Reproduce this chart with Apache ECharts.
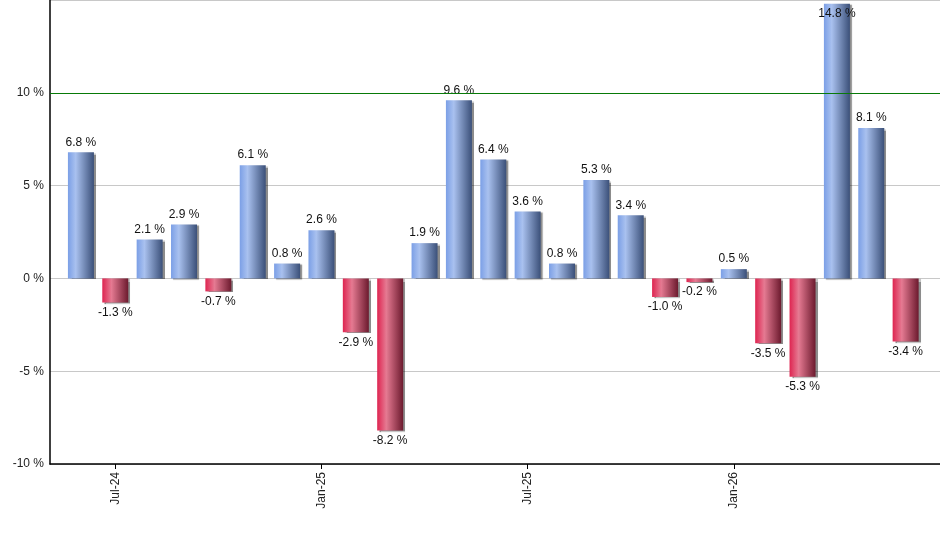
<!DOCTYPE html>
<html>
<head>
<meta charset="utf-8">
<script src="https://cdn.jsdelivr.net/npm/echarts@6/dist/echarts.min.js"></script>
<style>
    html, body { margin: 0; padding: 0; background: #fff; }
    #chart { width: 940px; height: 550px; }
</style>
</head>
<body>
<div id="chart"></div>
<script>
// 月度收益率柱状图

const months = ['Jun-24', 'Jul-24', 'Aug-24', 'Sep-24', 'Oct-24', 'Nov-24', 'Dec-24',
    'Jan-25', 'Feb-25', 'Mar-25', 'Apr-25', 'May-25', 'Jun-25', 'Jul-25', 'Aug-25',
    'Sep-25', 'Oct-25', 'Nov-25', 'Dec-25', 'Jan-26', 'Feb-26', 'Mar-26', 'Apr-26',
    'May-26', 'Jun-26'];
const returns = [6.8, -1.3, 2.1, 2.9, -0.7, 6.1, 0.8, 2.6, -2.9, -8.2, 1.9, 9.6, 6.4,
    3.6, 0.8, 5.3, 3.4, -1.0, -0.2, 0.5, -3.5, -5.3, 14.8, 8.1, -3.4];
const tickMonths = [1, 7, 13, 19];
const yTicks = [-10, -5, 0, 5, 10, 15];

const blueGrad = new echarts.graphic.LinearGradient(0, 0, 1, 0, [
    { offset: 0, color: '#7b9fe6' },
    { offset: 0.3, color: '#a9c1ef' },
    { offset: 1, color: '#3b5079' }
]);
const redGrad = new echarts.graphic.LinearGradient(0, 0, 1, 0, [
    { offset: 0, color: '#de2450' },
    { offset: 0.35, color: '#e57a92' },
    { offset: 1, color: '#6c1a2e' }
]);

const yMax = yTicks[yTicks.length - 1];

const barData = returns.map((v, i) => {
    const item = {
        value: [i, v],
        itemStyle: { color: v >= 0 ? blueGrad : redGrad },
        label: { position: v >= 0 ? 'top' : 'bottom' }
    };
    if (v > yMax - 1) item.label.position = 'insideTop';
    return item;
});

const chart = echarts.init(document.getElementById('chart'));

const option = {
    animation: false,
    grid: { left: 50, right: 0, top: 0, bottom: 86 },
    xAxis: {
        type: 'value',
        min: -0.9,
        max: 25,
        axisLine: { show: true, onZero: false, lineStyle: { color: '#000', width: 1.5 } },
        axisTick: {
            show: true,
            customValues: tickMonths,
            length: 5,
            lineStyle: { color: '#000' }
        },
        axisLabel: {
            customValues: tickMonths,
            rotate: 90,
            margin: 8,
            color: '#222',
            fontFamily: 'Liberation Sans',
            fontSize: 12,
            formatter: v => months[Math.round(v)]
        },
        splitLine: { show: false }
    },
    yAxis: {
        type: 'value',
        min: yTicks[0],
        max: yMax,
        interval: 5,
        axisLine: { show: true, onZero: false, lineStyle: { color: '#000', width: 1.5 } },
        axisTick: { show: false },
        axisLabel: {
            showMaxLabel: false,
            margin: 6,
            color: '#222',
            fontFamily: 'Liberation Sans',
            fontSize: 12,
            formatter: '{value} %'
        },
        splitLine: { show: true, lineStyle: { color: '#c8c8c8', width: 1 } }
    },
    series: [
        {
            type: 'bar',
            barWidth: 26,
            data: barData,
            itemStyle: {
                shadowColor: 'rgba(0,0,0,0.45)',
                shadowOffsetX: 2,
                shadowOffsetY: 1,
                shadowBlur: 1
            },
            label: {
                show: true,
                distance: 4,
                color: '#111',
                fontFamily: 'Liberation Sans',
                fontSize: 12,
                formatter: p => p.value[1].toFixed(1) + ' %'
            },
            markLine: {
                silent: true,
                symbol: 'none',
                label: { show: false },
                lineStyle: { color: '#087a08', width: 1, type: 'solid' },
                data: [{ yAxis: 10 }]
            }
        }
    ]
};

chart.setOption(option);
</script>
</body>
</html>
